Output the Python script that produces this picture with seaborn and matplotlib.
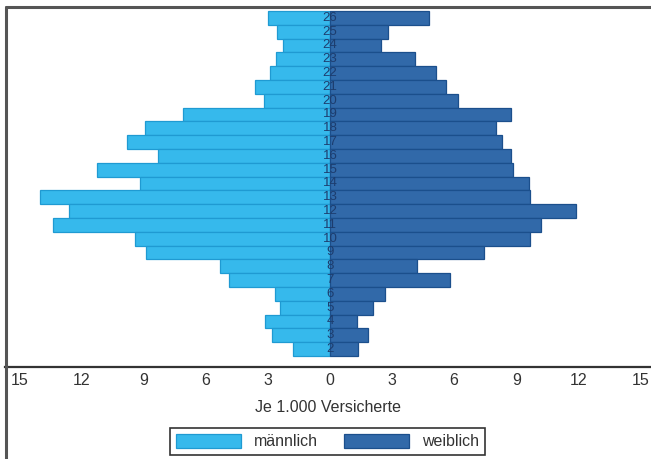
import numpy as np
import pandas as pd
import matplotlib

matplotlib.use("Agg")
import matplotlib.pyplot as plt
from matplotlib.lines import Line2D
import seaborn as sns

# Daten: Alter 2..26, je 1.000 Versicherte
ages = list(range(2, 27))
maennlich = [1.8, 2.8, 3.15, 2.4, 2.65, 4.9, 5.3, 8.9, 9.4, 13.4, 12.6, 14.0, 9.2,
             11.25, 8.3, 9.8, 8.95, 7.1, 3.2, 3.6, 2.9, 2.6, 2.25, 2.55, 3.0]
weiblich = [1.35, 1.85, 1.3, 2.1, 2.65, 5.8, 4.2, 7.45, 9.65, 10.2, 11.9, 9.65, 9.6,
            8.85, 8.75, 8.3, 8.0, 8.75, 6.2, 5.6, 5.1, 4.1, 2.45, 2.8, 4.8]
xticks = [-15, -12, -9, -6, -3, 0, 3, 6, 9, 12, 15]

col_m = "#36b9ec"
col_w = "#3169a9"
edge_m = "#1f9ad2"
edge_w = "#1b4f8c"

df = pd.DataFrame({
    "alter": ages * 2,
    "wert": [-v for v in maennlich] + weiblich,
    "geschlecht": ["männlich"] * len(ages) + ["weiblich"] * len(ages),
})
order = ages[::-1]  # 26 oben

sns.set_style("white")
plt.rcParams["font.family"] = ["Liberation Sans", "DejaVu Sans"]

fig = plt.figure(figsize=(6.51, 4.59), dpi=100)
ax = fig.add_axes([5 / 651, 1 - 367 / 459, 646 / 651, 361 / 459])

sns.barplot(data=df, x="wert", y="alter", hue="geschlecht", order=order,
            orient="h", dodge=False, width=1.0, ax=ax, saturation=1,
            palette={"männlich": col_m, "weiblich": col_w},
            linewidth=0.9, legend=True)

# Randfarben: links männlich, rechts weiblich
for p in ax.patches:
    if p.get_width() < 0 or p.get_x() < 0:
        p.set_edgecolor(edge_m)
    else:
        p.set_edgecolor(edge_w)

# Alterslabels in der Mitte
for i, a in enumerate(order):
    ax.text(0, i, str(a), ha="center", va="center", fontsize=9.5, color="#1d3d6e")

ax.set_xlim(-15.70, 15.51)
ax.set_ylim(25.30, -0.86)
ax.set_yticks([])
ax.set_ylabel("")
ax.set_xticks(xticks)
ax.set_xticklabels([str(abs(t)) for t in xticks], fontsize=11.5, color="#333333")
ax.tick_params(axis="x", length=0, pad=4)
ax.set_xlabel("Je 1.000 Versicherte", fontsize=11.5, color="#333333", labelpad=9)

for s in ["top", "right", "left"]:
    ax.spines[s].set_visible(False)
ax.spines["bottom"].set_color("#333333")
ax.spines["bottom"].set_linewidth(1.6)

# Legende
handles, labels = ax.get_legend_handles_labels()
ax.get_legend().remove()
for h, ec in zip(handles, [edge_m, edge_w]):
    h.set_linewidth(0.9)
    h.set_edgecolor(ec)
leg = fig.legend(handles, labels, loc="center", bbox_to_anchor=(327.5 / 651, 1 - 441.5 / 459),
                 ncol=2, fontsize=11.5, frameon=True, fancybox=False,
                 handlelength=4.1, handleheight=1.0, handletextpad=0.8,
                 columnspacing=1.6, borderpad=0.35)
leg.get_frame().set_edgecolor("black")
leg.get_frame().set_linewidth(1.2)
for t in leg.get_texts():
    t.set_color("#333333")

# Rahmen (links und oben)
fig.add_artist(Line2D([5.5 / 651, 5.5 / 651], [0, 1 - 6.5 / 459], color="#555555",
                      linewidth=2.2, transform=fig.transFigure))
fig.add_artist(Line2D([5.5 / 651, 1], [1 - 6.5 / 459, 1 - 6.5 / 459], color="#555555",
                      linewidth=2.2, transform=fig.transFigure))

fig.savefig("out.png", dpi=100)
